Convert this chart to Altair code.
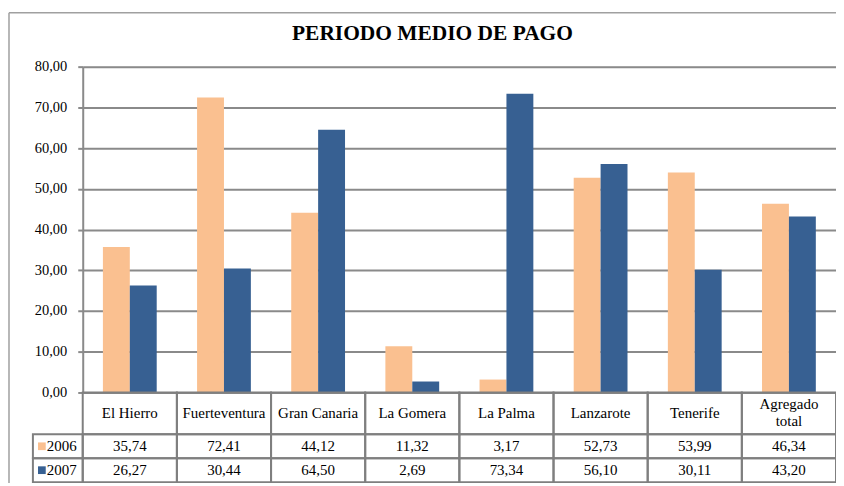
import altair as alt
import pandas as pd

categories = ["El Hierro", "Fuerteventura", "Gran Canaria", "La Gomera",
              "La Palma", "Lanzarote", "Tenerife", "Agregado total"]
series = ["2006", "2007"]
v2006 = [35.74, 72.41, 44.12, 11.32, 3.17, 52.73, 53.99, 46.34]
v2007 = [26.27, 30.44, 64.50, 2.69, 73.34, 56.10, 30.11, 43.20]
y_ticks = [0, 10, 20, 30, 40, 50, 60, 70, 80]

colors = ["#FAC090", "#376092"]
GRID = "#8a8a8a"
FONT = "'Liberation Serif', 'Times New Roman', 'DejaVu Serif', serif"

W, H = 756, 327
COLW = W / len(categories)
LEG = 50 / COLW  # legend column width in column units

# bar data
bars = pd.DataFrame(
    [{"cat": c, "series": "2006", "value": v} for c, v in zip(categories, v2006)]
    + [{"cat": c, "series": "2007", "value": v} for c, v in zip(categories, v2007)]
)

# table data
HDR = 42
ROW = 24
LH = 17
cells = []
for i, c in enumerate(categories):
    lab = c.replace("Agregado total", "Agregado|total")
    nl = lab.count("|") + 1
    cells.append({"x0": i, "x1": i + 1, "y0": 0, "y1": HDR, "label": lab,
                  "ym": HDR / 2 - (nl - 1) * (LH / 2 + 0.5)})
    for k, (s, vals) in enumerate(zip(series, [v2006, v2007])):
        cells.append({"x0": i, "x1": i + 1, "y0": HDR + k * ROW, "y1": HDR + (k + 1) * ROW,
                      "label": f"{vals[i]:.2f}".replace(".", ","),
                      "ym": HDR + k * ROW + ROW / 2})
cells = pd.DataFrame(cells)
cells["xm"] = (cells["x0"] + cells["x1"]) / 2

legend_cells = pd.DataFrame(
    [{"x0": -LEG, "x1": 0, "y0": HDR + k * ROW, "y1": HDR + (k + 1) * ROW, "series": s,
      "ym": HDR + k * ROW + ROW / 2, "xs": -LEG + 9 / COLW, "xt": -LEG + 14 / COLW}
     for k, s in enumerate(series)]
)

TOT = HDR + 2 * ROW
tx = alt.Scale(domain=[0, len(categories)], nice=False, zero=False)
ty = alt.Scale(domain=[0, TOT], range=[H, H + TOT], nice=False, zero=False)
color_scale = alt.Scale(domain=series, range=colors)

bar_layer = alt.Chart(bars).mark_bar().encode(
    x=alt.X("cat:N", sort=categories, axis=None,
            scale=alt.Scale(paddingInner=0.4286, paddingOuter=0.2143)),
    xOffset=alt.XOffset("series:N", sort=series,
                        scale=alt.Scale(paddingInner=0, paddingOuter=0)),
    y=alt.Y("value:Q", title=None,
            scale=alt.Scale(domain=[0, 80], nice=False),
            axis=alt.Axis(values=y_ticks,
                          labelExpr="replace(format(datum.value, '.2f'), '.', ',')",
                          grid=True, gridColor=GRID, gridWidth=2,
                          domainColor=GRID, domainWidth=2,
                          tickColor=GRID, tickWidth=2, tickSize=5,
                          labelFont=FONT, labelFontSize=14.5, labelColor="#000",
                          labelPadding=11)),
    color=alt.Color("series:N", scale=color_scale, legend=None),
)

cell_rects = alt.Chart(cells).mark_rect(fill="white", fillOpacity=0, stroke="#7f7f7f",
                                        strokeWidth=2).encode(
    x=alt.X("x0:Q", scale=tx, axis=None),
    x2="x1:Q",
    y=alt.Y("y0:Q", scale=ty, axis=None),
    y2="y1:Q",
)
cell_text = alt.Chart(cells).mark_text(font=FONT, fontSize=15, color="#000",
                                       baseline="middle", lineBreak="|",
                                       lineHeight=LH).encode(
    x=alt.X("xm:Q", scale=tx, axis=None),
    y=alt.Y("ym:Q", scale=ty, axis=None),
    text="label:N",
)
leg_rects = alt.Chart(legend_cells).mark_rect(fillOpacity=0, stroke="#7f7f7f",
                                              strokeWidth=2).encode(
    x=alt.X("x0:Q", scale=tx, axis=None),
    x2="x1:Q",
    y=alt.Y("y0:Q", scale=ty, axis=None),
    y2="y1:Q",
)
leg_swatch = alt.Chart(legend_cells).mark_square(size=60, opacity=1).encode(
    x=alt.X("xs:Q", scale=tx, axis=None),
    y=alt.Y("ym:Q", scale=ty, axis=None),
    color=alt.Color("series:N", scale=color_scale, legend=None),
)
leg_text = alt.Chart(legend_cells).mark_text(font=FONT, fontSize=15, color="#000",
                                             align="left", baseline="middle").encode(
    x=alt.X("xt:Q", scale=tx, axis=None),
    y=alt.Y("ym:Q", scale=ty, axis=None),
    text="series:N",
)
table = alt.layer(cell_rects, cell_text, leg_rects, leg_swatch, leg_text)

one = pd.DataFrame({"k": [0]})
border_left = alt.Chart(one).mark_rule(color="#a0a0a0", strokeWidth=1.5).encode(
    x=alt.value(-74), y=alt.value(-54), y2=alt.value(H + TOT + 10))
border_top = alt.Chart(one).mark_rule(color="#a0a0a0", strokeWidth=1.5).encode(
    x=alt.value(-74), x2=alt.value(W + 10), y=alt.value(-54))

chart = alt.layer(border_left, border_top, bar_layer, table).resolve_scale(
    x="independent", y="independent"
).properties(
    width=W, height=H,
    autosize=alt.AutoSizeParams(type="none"),
    padding={"left": 75, "top": 58, "right": 0, "bottom": TOT},
    title=alt.Title("PERIODO MEDIO DE PAGO", font=FONT, fontSize=21.5, fontWeight="bold",
                    color="#000", anchor="middle", frame="group", dx=-27, offset=0,
                    dy=50, baseline="alphabetic"),
).configure_view(stroke=None).configure(background="white")

chart.save("out.html", embed_options={"renderer": "svg", "actions": False})
